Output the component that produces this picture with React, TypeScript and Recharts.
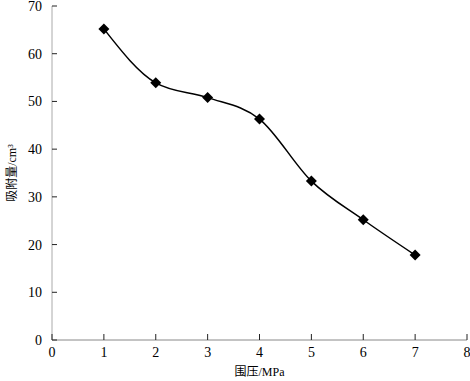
import { LineChart, Line, XAxis, YAxis, Label } from "recharts";

const pressure = [1, 2, 3, 4, 5, 6, 7];
const adsorption = [65.2, 53.9, 50.8, 46.3, 33.3, 25.2, 17.8];
const xTicks = [0, 1, 2, 3, 4, 5, 6, 7, 8];
const yTicks = [0, 10, 20, 30, 40, 50, 60, 70];

const data = pressure.map((p, i) => ({ p, v: adsorption[i] }));

const FONT = "'Liberation Serif', 'Noto Sans CJK SC', serif";

const Diamond = (props: any) => {
  const { cx, cy, index } = props;
  const r = 5.5;
  return (
    <path
      key={index}
      d={`M${cx},${cy - r} L${cx + r},${cy} L${cx},${cy + r} L${cx - r},${cy} Z`}
      fill="#000"
    />
  );
};

// ticks point inwards, so draw them with the label
const YTick = (props: any) => {
  const { x, y, payload } = props;
  return (
    <g>
      <line x1={x + 10} x2={x + 15} y1={y} y2={y} stroke="#222" />
      <text x={x} y={y} dy={5} textAnchor="end" fontSize={14} fontFamily={FONT} fill="#000">
        {payload.value}
      </text>
    </g>
  );
};

const XTick = (props: any) => {
  const { x, y, payload } = props;
  return (
    <g>
      <line x1={x} x2={x} y1={y - 6} y2={y - 12} stroke="#222" />
      <text x={x} y={y} dy={11} textAnchor="middle" fontSize={14} fontFamily={FONT} fill="#000">
        {payload.value}
      </text>
    </g>
  );
};

export default function App() {
  return (
    <div style={{ position: "absolute", left: 0, top: 0, background: "#fff" }}>
      <LineChart
        width={470}
        height={381}
        data={data}
        margin={{ top: 6, right: 3, left: 0, bottom: 0 }}
      >
        <XAxis
          dataKey="p"
          type="number"
          domain={[0, 8]}
          ticks={xTicks}
          interval={0}
          height={41}
          stroke="#888"
          tickLine={false}
          tickSize={0}
          tickMargin={6}
          tick={<XTick />}
        >
          <Label
            value="围压/MPa"
            position="insideBottom"
            offset={5}
            style={{ fontSize: 12, fontFamily: FONT, fill: "#000" }}
          />
        </XAxis>
        <YAxis
          type="number"
          domain={[0, 70]}
          ticks={yTicks}
          interval={0}
          width={52}
          stroke="#aaa"
          tickLine={false}
          tickSize={0}
          tickMargin={10}
          tick={<YTick />}
        >
          <Label
            value="吸附量/cm³"
            angle={-90}
            position="insideLeft"
            offset={12}
            style={{ fontSize: 12, fontFamily: FONT, fill: "#000", textAnchor: "middle" }}
          />
        </YAxis>
        <Line
          dataKey="v"
          type="monotone"
          stroke="#000"
          strokeWidth={1.5}
          dot={<Diamond />}
          activeDot={false}
          isAnimationActive={false}
        />
      </LineChart>
    </div>
  );
}
